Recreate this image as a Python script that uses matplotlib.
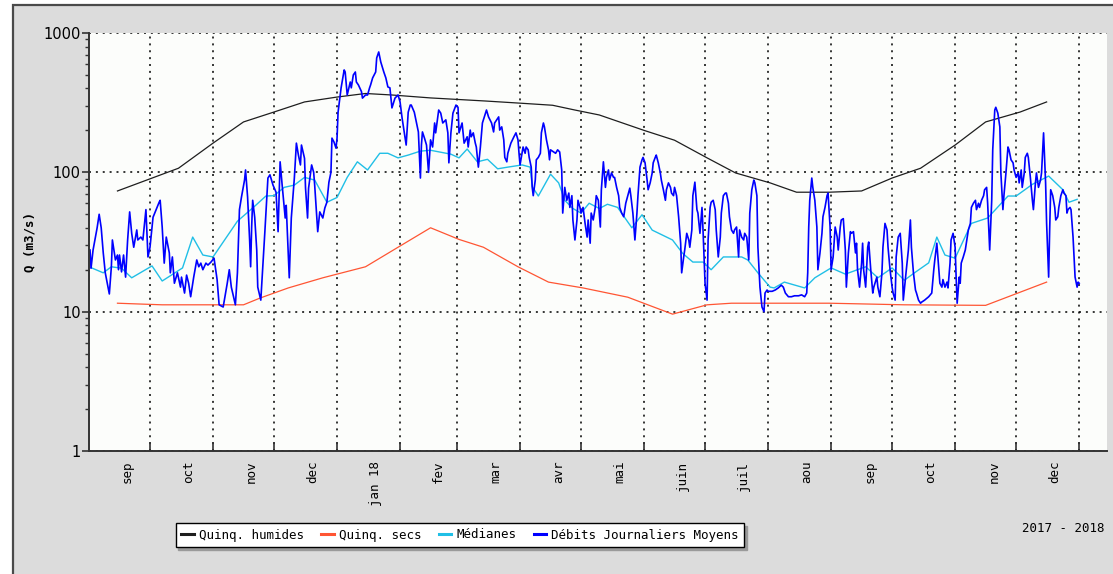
import datetime as dt
import matplotlib
matplotlib.use("Agg")
import matplotlib.pyplot as plt
import matplotlib.dates as mdates
from matplotlib.patches import Rectangle
from matplotlib.ticker import FixedLocator, FixedFormatter, NullFormatter, LogLocator

# jours comptés depuis le 1er septembre 2017, débits en m3/s
START = dt.datetime(2017, 9, 1)

humides = [(14, 73.5), (44, 107), (61, 162), (76, 230), (91, 271), (106, 320), (122, 347),
           (136, 368), (149, 359), (168, 342), (195, 325), (213, 313), (228, 303), (239, 280),
           (251, 258), (273, 200), (288, 170), (304, 127), (318, 99), (335, 84), (348, 72),
           (364, 72), (380, 73.5), (395, 91), (409, 107), (426, 157), (441, 230), (458, 271),
           (471, 320)]

secs = [(14, 11.5), (21, 11.4), (36, 11.2), (76, 11.2), (84, 12.5), (98, 14.8), (115, 17.5),
        (136, 21), (152, 29), (168, 40), (182, 33), (194, 29), (211, 21), (226, 16.3),
        (243, 14.8), (265, 12.7), (287, 9.6), (304, 11.2), (316, 11.5), (364, 11.5),
        (401, 11.2), (441, 11.1), (471, 16.3)]

medianes = [(0, 21), (7, 19), (11, 21), (16, 20.5), (21, 17.5), (31, 21.3), (36, 16.6),
            (46, 20.6), (51, 34.3), (56, 25.5), (61, 24.7), (73, 44.6), (82, 58), (87, 67.6),
            (91, 68), (96, 78), (101, 81), (106, 92), (111, 88), (117, 61), (122, 66),
            (127, 92), (132, 119), (137, 104), (143, 137), (147, 137), (152, 127), (157, 133),
            (163, 142), (168, 144), (178, 135), (182, 127), (186, 147), (191, 119), (196, 124),
            (201, 106), (206, 109), (213, 113), (217, 109), (218, 79), (221, 67.6), (227, 97),
            (231, 84), (234, 63), (238, 55), (242, 51), (246, 60), (251, 55), (255, 59),
            (260, 56), (267, 40), (272, 49.6), (277, 38.5), (287, 32.7), (292, 26.2),
            (297, 22.7), (302, 22.7), (306, 20), (312, 24.7), (321, 24.7), (324, 23.5),
            (329, 19), (335, 15), (337, 14.8), (342, 16.3), (352, 14.8), (357, 17.5),
            (365, 20.6), (372, 18.6), (382, 21), (388, 17.5), (395, 20.6), (401, 16.8),
            (406, 19), (413, 22.4), (417, 34.3), (421, 25.5), (426, 24.2), (434, 43),
            (442, 47), (452, 67.6), (456, 67.6), (464, 82), (472, 94), (479, 75), (482, 61),
            (486, 64)]

debits = [
    (0.5, 27.7), (1, 20.5), (2, 27.7), (4, 40), (5, 50), (6, 40), (7, 26.5), (8, 19), (10, 13.4),
    (11, 21), (11.5, 32.7), (13, 23.5), (14, 25.5), (14.5, 20), (15, 25.5), (16, 19.3), (17, 25.5),
    (18, 17.7), (19, 32.7), (20, 52), (21, 36.5), (22, 29), (23.5, 38.6), (24, 32.7), (25.5, 34.3),
    (26.5, 32.7), (27.5, 45.5), (28, 54), (29, 24.7), (30, 29), (31.5, 47.6), (33, 54), (34.5, 61),
    (35, 63), (36, 40.5), (37, 22.3), (38, 34.3), (39.5, 26.4), (40, 19), (41, 24.7), (42, 16),
    (43.5, 19), (45, 15), (45.5, 17.7), (47, 13.6), (48, 18.3), (49, 16), (50, 12.8), (51.5, 17.7),
    (53, 23.5), (54, 21), (55, 22.3), (56, 20), (57.5, 22.3), (58.5, 21.6), (60, 22.7), (61.5, 24.2),
    (63, 17), (64, 11.2), (66, 10.8), (68, 16), (69, 20), (70, 15), (72, 11.2), (73, 19), (74, 54),
    (75, 66.5), (76.5, 88), (77, 104), (78, 66.5), (79, 32.7), (79.5, 21), (80, 40.5), (80.5, 63),
    (81.5, 47.6), (82.5, 27.7), (83, 15), (84.5, 12.1), (86.5, 37.5), (88, 91), (89, 96),
    (90.5, 81), (92, 72), (93, 37.5), (94, 119), (95, 81), (96.5, 47), (97, 58), (98.5, 17.5),
    (99.5, 47), (101, 91), (102, 162), (103, 133), (104, 113), (104.5, 157), (106, 126),
    (106.5, 77), (107.5, 47), (108, 77), (109.5, 113), (110.5, 100), (111, 81), (112.5, 37.5),
    (113.5, 52), (115, 47), (116, 55.5), (117, 61), (118, 85), (119, 100), (119.5, 176),
    (120.5, 165), (121.5, 149), (122, 176), (122.5, 270), (124, 404), (125.5, 543), (126, 525),
    (127, 359), (128.5, 445), (129, 404), (130, 500), (131, 525), (131.5, 445), (132.5, 424),
    (134, 380), (134.5, 341), (136, 359), (137, 359), (138, 404), (138.5, 424), (139.5, 476),
    (141, 525), (141.5, 662), (142.5, 731), (143.5, 620), (145, 525), (146, 476), (147, 410),
    (148, 404), (149, 290), (150.5, 341), (152, 359), (153, 320), (154, 245), (155, 195),
    (156, 157), (157, 270), (158, 304), (158.5, 304), (160, 270), (161, 230), (162, 195),
    (163, 91), (163.5, 157), (164, 195), (165, 176), (166, 157), (167, 100), (168, 171),
    (169, 152), (170, 226), (170.5, 192), (172, 280), (173, 266), (174, 226), (175.5, 238),
    (176.5, 192), (177, 117), (178, 192), (179, 266), (180.5, 304), (181.5, 293), (182, 192),
    (183.5, 226), (184.5, 162), (186, 180), (186.5, 152), (187.5, 201), (188, 180), (189, 192),
    (190, 162), (190.5, 152), (191.5, 109), (192.5, 152), (193.5, 226), (195, 266), (195.5, 280),
    (196.5, 250), (198, 226), (199, 195), (199.5, 226), (200.5, 238), (201.5, 250), (202, 201),
    (203, 212), (204, 171), (204.5, 128), (205.5, 119), (206, 137), (207.5, 162), (209, 180),
    (210, 192), (211, 171), (211.5, 137), (212, 113), (213, 137), (213.5, 152), (214.5, 137),
    (215, 152), (216, 145), (216.5, 128), (217.5, 109), (218, 78), (218.5, 68), (219.5, 88),
    (220, 123), (221, 128), (222, 137), (222.5, 192), (223.5, 226), (224, 212), (225, 171),
    (226, 145), (226.5, 123), (227, 145), (228.5, 140), (229.5, 137), (230.5, 145), (231.5, 140),
    (232.5, 104), (233, 51), (234, 78), (235, 63), (236, 71), (236.5, 56), (237.5, 68),
    (238, 45.5), (239, 32.7), (240, 45.5), (240.5, 63), (241.5, 56), (242, 51), (243, 56),
    (244, 43), (245, 34.3), (245.5, 45.5), (246.5, 31), (247, 51), (248, 45.5), (249, 56),
    (249.5, 68), (250.5, 63), (251.5, 40.5), (252, 75), (253, 119), (254, 78), (254.5, 92),
    (255.5, 104), (256, 88), (257, 99), (258, 92), (258.5, 92), (259.5, 78), (260.5, 68),
    (261, 56), (262, 51), (263, 48), (264, 60), (265, 68), (266, 77), (266.5, 68), (267.5, 51),
    (268.5, 32.7), (269.5, 51), (270, 68), (271, 109), (272, 123), (272.5, 128), (273.5, 117),
    (274.5, 88), (275, 75), (276, 84), (277, 99), (277.5, 117), (278.5, 128), (279, 133),
    (280, 117), (281, 99), (281.5, 88), (282.5, 75), (283.5, 63), (284, 75), (285, 84), (286, 78),
    (286.5, 71), (287.5, 68), (288, 78), (289, 68), (290, 48), (291, 31), (291.5, 19),
    (292.5, 24.7), (293, 27.7), (294, 36.5), (295, 32.7), (295.5, 29), (296.5, 38.6), (297, 68),
    (298, 85), (299, 54), (299.5, 51), (300.5, 36.5), (301.5, 56), (302, 38.6), (303, 16),
    (304, 12.1), (304.5, 32.7), (305.5, 56), (306, 61), (307, 63), (308, 54), (308.5, 38.6),
    (309.5, 24.7), (310.5, 34.3), (311, 51), (312, 68), (313, 71), (313.5, 71), (314.5, 60),
    (315, 48), (316, 38.6), (317, 36.5), (317.5, 38.6), (318.5, 40.5), (319.5, 24.7), (320, 38.6),
    (321, 34.3), (322, 32.7), (322.5, 36.5), (323.5, 34.3), (324.5, 23.5), (325, 51), (326, 75),
    (327, 88), (327.5, 84), (328.5, 68), (329, 29), (330, 15), (331, 10.8), (332, 10),
    (332.5, 13.6), (333.5, 14.3), (334, 14), (336, 14), (337.5, 14.3), (339, 14.8), (340.5, 15.5),
    (341.5, 15), (342.5, 13.6), (344, 12.8), (345.5, 12.8), (347, 13), (349, 13), (350.5, 13.2),
    (352, 12.8), (353, 13.6), (353.5, 19), (354, 40.5), (354.5, 63), (355.5, 91), (356, 78),
    (357, 63), (358, 40.5), (358.5, 20), (359.5, 26.2), (360.5, 36.5), (361, 48), (362, 56),
    (363, 68), (363.5, 71), (364.5, 40.5), (365, 20), (366, 24.7), (367, 40.5), (368, 34.3),
    (368.5, 27.7), (369.5, 40.5), (370, 45.5), (371, 46.5), (372, 27.7), (372.5, 15),
    (373.5, 26.4), (374.5, 37.5), (375, 36.5), (376, 37.5), (377, 26.4), (377.5, 31), (378, 20),
    (379, 15), (380, 22.3), (380.5, 31), (381, 20), (382, 15), (383, 29), (383.5, 31.6),
    (384.5, 20), (385.5, 13.6), (386, 15), (387.5, 17.7), (388, 15), (389, 12.8), (390, 19),
    (390.5, 29), (391.5, 43), (392.5, 38.6), (393, 29), (394, 20), (395, 15), (395.5, 13.6),
    (396.5, 12.1), (397, 24.7), (398, 34.3), (399, 36.5), (400, 22.3), (400.5, 12.1), (401.5, 17),
    (402, 20), (403, 27.7), (404, 45.5), (404.5, 29), (405.5, 19), (406.5, 14.3), (407, 13.6),
    (408, 12.1), (409, 11.5), (409.5, 11.7), (411, 12.1), (413, 12.8), (414.5, 13.6),
    (415.5, 20), (416, 23.5), (417, 31), (418, 20), (418.5, 16), (419.5, 15), (420, 17),
    (421, 15), (422, 16.3), (422.5, 14.8), (423.5, 22.3), (424, 32.7), (425, 36.5), (426, 29),
    (426.5, 17.7), (427, 11.5), (428, 17.7), (428.5, 16), (429, 22.3), (430, 24.7), (431, 27.7),
    (431.5, 31), (432.5, 38.6), (433.5, 43), (434, 56), (435, 60), (436, 63), (436.5, 54),
    (437.5, 60), (438, 56), (439, 63), (440, 68), (440.5, 75), (441.5, 78), (442, 60),
    (443, 27.7), (444, 63), (444.5, 145), (445.5, 280), (446, 293), (447, 266), (448, 212),
    (448.5, 99), (449.5, 54), (450, 68), (451, 99), (452, 152), (452.5, 145), (453.5, 123),
    (454.5, 117), (455, 104), (456, 92), (457, 99), (457.5, 84), (458.5, 104), (459, 78),
    (460, 99), (460.5, 128), (461.5, 137), (462, 128), (463, 92), (464, 63), (464.5, 54),
    (465.5, 84), (466, 99), (467, 78), (468, 88), (468.5, 99), (469.5, 192), (470, 128),
    (470.5, 84), (471, 43), (472, 17.7), (472.5, 38.6), (473, 75), (474, 68), (475, 56),
    (475.5, 45.5), (476.5, 48), (477, 56), (478, 68), (479, 75), (479.5, 71), (480.5, 68),
    (481, 51), (481.5, 54), (482.5, 56), (483, 54), (484, 34.3), (485, 17.7), (486, 15),
    (486.5, 16.3), (487, 16)]

month_labels = ['sep', 'oct', 'nov', 'dec', 'jan 18', 'fev', 'mar', 'avr', 'mai', 'juin',
                'juil', 'aou', 'sep', 'oct', 'nov', 'dec']
y_ticks = [1, 10, 100, 1000]


def to_xy(pts):
    xs = [mdates.date2num(START + dt.timedelta(days=d)) for d, _ in pts]
    ys = [q for _, q in pts]
    return xs, ys


MONO = 'DejaVu Sans Mono'

fig = plt.figure(figsize=(11.13, 5.74), dpi=100, facecolor='white')
# panneau gris avec bordure
fig.patches.append(Rectangle((13 / 1113, -0.1), 1.0, 1.1 - 5 / 574, transform=fig.transFigure,
                             facecolor='#dcdcdc', edgecolor='#4a4a4a', lw=1.6, zorder=-5))

ax = fig.add_axes([89 / 1113, 1 - 451 / 574, (1107 - 89) / 1113, (451 - 33) / 574])
ax.set_facecolor('#fcfdfb')

lines = []
for pts, col, lw, lab in [(humides, '#1e1e1e', 0.9, 'Quinq. humides'),
                          (secs, '#ff5533', 0.9, 'Quinq. secs'),
                          (medianes, '#20bfe6', 1.0, 'Médianes'),
                          (debits, '#0000ff', 1.2, 'Débits Journaliers Moyens')]:
    xs, ys = to_xy(pts)
    ln, = ax.plot(xs, ys, color=col, lw=lw, label=lab)
    lines.append(ln)

ax.set_yscale('log')
ax.set_ylim(1, 1000)
x0 = mdates.date2num(START)
ax.set_xlim(x0, x0 + 500.7)

# mois : ticks majeurs au 1er du mois, libellés vers le 20
month_starts = []
label_pos = []
y, m = 2017, 9
for i in range(len(month_labels) + 1):
    month_starts.append(mdates.date2num(dt.datetime(y, m, 1)))
    if i < len(month_labels):
        label_pos.append(mdates.date2num(dt.datetime(y, m, 20)))
    m += 1
    if m > 12:
        m, y = 1, y + 1
ax.xaxis.set_major_locator(FixedLocator(month_starts[1:]))
ax.xaxis.set_major_formatter(NullFormatter())
ax.xaxis.set_minor_locator(FixedLocator(label_pos))
ax.xaxis.set_minor_formatter(FixedFormatter(month_labels))
ax.tick_params(axis='x', which='major', direction='in', length=6.5, width=1.2, color='#333')
ax.tick_params(axis='x', which='minor', length=0, pad=7, labelrotation=90, labelsize=9)
for t in ax.xaxis.get_minorticklabels():
    t.set_family(MONO)

ax.yaxis.set_major_locator(FixedLocator(y_ticks))
ax.yaxis.set_major_formatter(FixedFormatter([str(v) for v in y_ticks]))
ax.yaxis.set_minor_locator(LogLocator(base=10, subs=range(2, 10)))
ax.yaxis.set_minor_formatter(NullFormatter())
ax.tick_params(axis='y', which='major', direction='out', length=5, width=1.2, color='#333',
               labelsize=10.5, pad=1)
ax.tick_params(axis='y', which='minor', direction='out', length=2.8, width=1.0, color='#333')

ax.grid(True, which='major', color='black', lw=1.1, dashes=(1.3, 3.2))
for s in ['top', 'right']:
    ax.spines[s].set_visible(False)
for s in ['left', 'bottom']:
    ax.spines[s].set_color('#333')
    ax.spines[s].set_linewidth(1.4)

fig.text(30 / 1113, 1 - 242 / 574, 'Q (m3/s)', rotation=90, family=MONO, weight='bold',
         size=9, ha='center', va='center')

leg = fig.legend(handles=lines, loc='center', bbox_to_anchor=(460 / 1113, 1 - 535 / 574),
                 ncol=4, frameon=True, fancybox=False, shadow={'color': '#9a9a9a', 'alpha': 1},
                 edgecolor='black', prop={'family': MONO, 'size': 9}, handlelength=1.0,
                 handletextpad=0.4, columnspacing=1.4, borderpad=0.45, borderaxespad=0)
leg.get_frame().set_linewidth(1.0)
for h in leg.legend_handles:
    h.set_linewidth(2.2)

fig.text(1105 / 1113, 1 - 528 / 574, '2017 - 2018', family=MONO, size=9, ha='right', va='center')

fig.savefig('out.png', dpi=100, facecolor=fig.get_facecolor())
